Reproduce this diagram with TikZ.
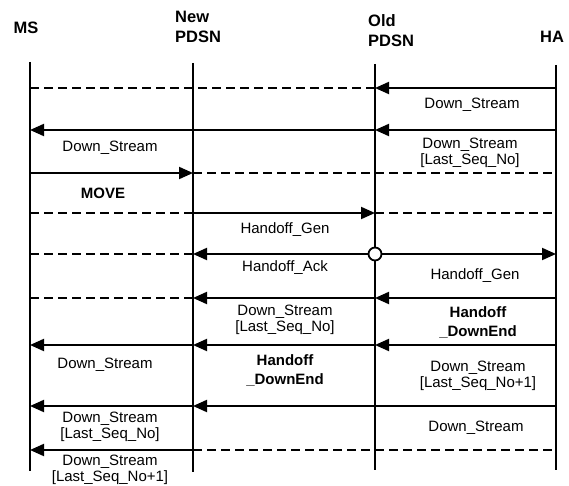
\documentclass[tikz,border=0pt]{standalone}
\usepackage{fontspec}
\setmainfont{Liberation Sans}
\usetikzlibrary{arrows.meta}

\begin{document}
\begin{tikzpicture}[x=1pt, y=-1pt,
    lifeline/.style={line width=2.6pt},
    msg/.style={line width=2pt, -{Triangle[length=14pt, width=12pt]}},
    idle/.style={line width=1.2pt, dash pattern=on 9pt off 5pt},
    lbl/.style={font=\fontsize{15}{16}\selectfont, align=center, inner sep=0pt},
    head/.style={font=\fontsize{16.5}{20}\selectfont\bfseries, align=left, inner sep=0pt}
]
    \useasboundingbox (0,0) rectangle (569,486);

    % Entities
    \node[head] (ms) at (26,28) {MS};
    \node[head, anchor=west] (newpdsn) at (175,27) {New\\PDSN};
    \node[head, anchor=west] (oldpdsn) at (368,31) {Old\\PDSN};
    \node[head] (ha) at (552,37) {HA};

    % Lifelines
    \coordinate (ms-top) at (30,62);
    \coordinate (ms-bot) at (30,471);
    \coordinate (new-top) at (193,63);
    \coordinate (new-bot) at (193,472);
    \coordinate (old-top) at (375,64);
    \coordinate (old-bot) at (375,470);
    \coordinate (ha-top) at (556,65);
    \coordinate (ha-bot) at (556,470);
    \draw[lifeline] (ms-top) -- (ms-bot);
    \draw[lifeline] (new-top) -- (new-bot);
    \draw[lifeline] (old-top) -- (old-bot);
    \draw[lifeline] (ha-top) -- (ha-bot);

    % Rows on the lifelines
    \foreach \r/\y in {1/88, 2/130, 3/173, 4/213, 5/254, 6/298, 7/345, 8/406, 9/450} {
        \coordinate (ms\r) at (30,\y);
        \coordinate (new\r) at (193,\y);
        \coordinate (old\r) at (375,\y);
        \coordinate (ha\r) at (556,\y);
    }

    % Row 1
    \draw[idle] (ms1) -- (old1);
    \draw[msg] (ha1) -- (old1);
    \node[lbl] (ds1) at (472,105) {Down\_Stream};

    % Row 2
    \draw[msg] (old2) -- (ms2);
    \draw[msg] (ha2) -- (old2);
    \node[lbl] (ds2) at (110,148) {Down\_Stream};
    \node[lbl] (ds2last) at (470,153) {Down\_Stream\\{}[Last\_Seq\_No]};

    % Row 3
    \draw[msg] (ms3) -- (new3);
    \draw[idle] (new3) -- (ha3);
    \node[lbl, font=\fontsize{15}{16}\selectfont\bfseries] (move) at (103,193) {MOVE};

    % Row 4
    \draw[idle] (ms4) -- (new4);
    \draw[msg] (new4) -- (old4);
    \draw[idle] (old4) -- (ha4);
    \node[lbl] (hgen1) at (285,230) {Handoff\_Gen};

    % Row 5
    \draw[idle] (ms5) -- (new5);
    \draw[msg] (old5) -- (new5);
    \draw[msg] (old5) -- (ha5);
    \draw[line width=1.8pt, fill=white] (old5) circle (6.5);
    \node[lbl] (hack) at (285,268) {Handoff\_Ack};
    \node[lbl] (hgen2) at (475,276) {Handoff\_Gen};

    % Row 6
    \draw[idle] (ms6) -- (new6);
    \draw[msg] (old6) -- (new6);
    \draw[msg] (ha6) -- (old6);
    \node[lbl] (ds6last) at (285,320) {Down\_Stream\\{}[Last\_Seq\_No]};
    \node[lbl, font=\fontsize{15}{19}\selectfont\bfseries] (hdown1) at (478,322) {Handoff\\\_DownEnd};

    % Row 7
    \draw[msg] (new7) -- (ms7);
    \draw[msg] (old7) -- (new7);
    \draw[msg] (ha7) -- (old7);
    \node[lbl] (ds7) at (105,365) {Down\_Stream};
    \node[lbl, font=\fontsize{15}{19}\selectfont\bfseries] (hdown2) at (285,370) {Handoff\\\_DownEnd};
    \node[lbl] (ds7next) at (478,376) {Down\_Stream\\{}[Last\_Seq\_No+1]};

    % Row 8
    \draw[msg] (new8) -- (ms8);
    \draw[msg] (ha8) -- (new8);
    \node[lbl] (ds8last) at (110,427) {Down\_Stream\\{}[Last\_Seq\_No]};
    \node[lbl] (ds8) at (476,428) {Down\_Stream};

    % Row 9
    \draw[msg] (new9) -- (ms9);
    \draw[idle] (new9) -- (ha9);
    \node[lbl] (ds9next) at (110,470) {Down\_Stream\\{}[Last\_Seq\_No+1]};
\end{tikzpicture}
\end{document}
